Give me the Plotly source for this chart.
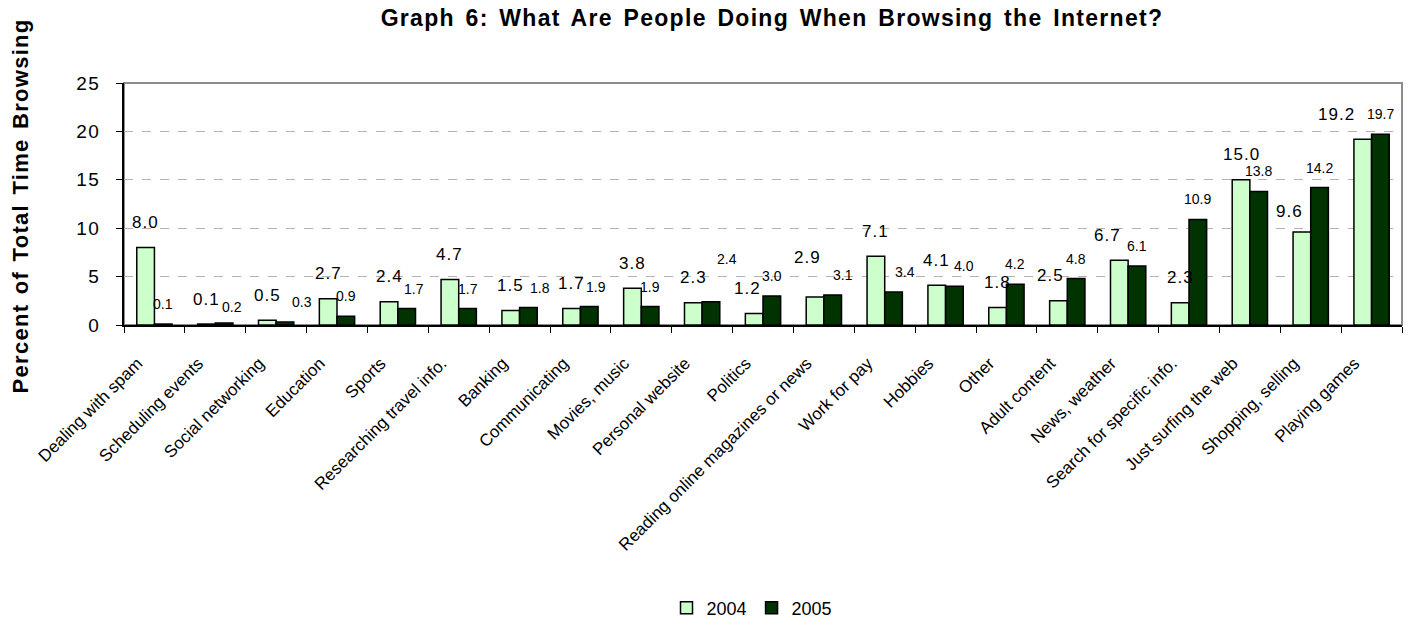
import plotly.graph_objects as go

# Activities and share of browsing time (percent) for each survey year
categories = [
    "Dealing with spam", "Scheduling events", "Social networking", "Education",
    "Sports", "Researching travel info.", "Banking", "Communicating",
    "Movies, music", "Personal website", "Politics",
    "Reading online magazines or news", "Work for pay", "Hobbies", "Other",
    "Adult content", "News, weather", "Search for specific info.",
    "Just surfing the web", "Shopping, selling", "Playing games",
]
share_2004 = [8.0, 0.1, 0.5, 2.7, 2.4, 4.7, 1.5, 1.7, 3.8, 2.3, 1.2,
              2.9, 7.1, 4.1, 1.8, 2.5, 6.7, 2.3, 15.0, 9.6, 19.2]
share_2005 = [0.1, 0.2, 0.3, 0.9, 1.7, 1.7, 1.8, 1.9, 1.9, 2.4, 3.0,
              3.1, 3.4, 4.0, 4.2, 4.8, 6.1, 10.9, 13.8, 14.2, 19.7]
y_ticks = [0, 5, 10, 15, 20, 25]

W, H = 1406, 621
MARGIN = dict(l=124, r=4, t=83, b=296, autoexpand=False)
BARGAP = 0.42
FONT = "Arial, Liberation Sans, sans-serif"

COLOR_2004 = "#CCFFCC"
COLOR_2005 = "#003300"

# Hand placement of a few value labels that sit off their default spot (px)
LABEL_NUDGE = {
    ("2004", "Playing games"): (-26, 0),
    ("2004", "Shopping, selling"): (-12, -4),
    ("2004", "News, weather"): (-12, 0),
    ("2004", "Adult content"): (-8, 0),
    ("2004", "Politics"): (-7, 0),
    ("2004", "Reading online magazines or news"): (-8, 14),
    ("2005", "Social networking"): (17, 0),
    ("2005", "Scheduling events"): (8, -4),
    ("2005", "Sports"): (7, 0),
    ("2005", "Banking"): (12, 0),
    ("2005", "Communicating"): (7, 0),
    ("2005", "Personal website"): (16, 23),
    ("2005", "Reading online magazines or news"): (10, 0),
    ("2005", "Work for pay"): (11, 0),
    ("2005", "Hobbies"): (10, 0),
}


def spaced(text, letter=1.0, word=0.0):
    return (f'<span style="letter-spacing:{letter}px;word-spacing:{word}px">'
            f'{text}</span>')


fig = go.Figure()
fig.add_bar(name="2004", x=categories, y=share_2004,
            marker=dict(color=COLOR_2004, line=dict(color="black", width=1.5)))
fig.add_bar(name="2005", x=categories, y=share_2005,
            marker=dict(color=COLOR_2005, line=dict(color="black", width=1.5)))

# Value labels above each bar
plot_w = W - MARGIN["l"] - MARGIN["r"]
plot_h = H - MARGIN["t"] - MARGIN["b"]
cat_w = plot_w / len(categories)
bar_w = cat_w * (1 - BARGAP) / 2
annotations = []
for series, values, side, lift, size in (
        ("2004", share_2004, -1, 25, 17),
        ("2005", share_2005, 1, 20, 14)):
    for cat, v in zip(categories, values):
        dx, dy = LABEL_NUDGE.get((series, cat), (0, 0))
        annotations.append(dict(
            x=cat, y=v, xref="x", yref="y",
            text=spaced(f"{v:.1f}", 1.0 if series == "2004" else 0.0),
            showarrow=False, xanchor="center", yanchor="middle",
            xshift=side * bar_w / 2 + dx, yshift=lift + dy,
            font=dict(family=FONT, size=size, color="black"),
        ))

# Y axis title
annotations.append(dict(
    x=-(MARGIN["l"] - 20) / plot_w, y=0.49, xref="paper", yref="paper",
    text=spaced("<b>Percent of Total Time Browsing</b>", 1.3, 2.0),
    textangle=-90, showarrow=False, xanchor="center", yanchor="middle",
    font=dict(family=FONT, size=22, color="black"),
))

fig.update_layout(
    width=W, height=H, margin=MARGIN,
    paper_bgcolor="white", plot_bgcolor="white",
    barmode="group", bargap=BARGAP, bargroupgap=0,
    title=dict(
        text=spaced("<b>Graph 6: What Are People Doing When Browsing the Internet?</b>", 1.3, 3.0),
        x=772 / W, xanchor="center", xref="container",
        y=1 - 18 / H, yanchor="middle", yref="container",
        font=dict(family=FONT, size=23, color="black"),
        automargin=False,
    ),
    legend=dict(
        orientation="h", x=(752 - MARGIN["l"]) / plot_w, xanchor="center",
        y=1 - (608 - MARGIN["t"]) / plot_h, yanchor="middle",
        font=dict(family=FONT, size=18, color="black"),
        itemclick=False, traceorder="normal",
    ),
    annotations=annotations,
    shapes=[dict(type="rect", xref="paper", yref="paper", x0=0, x1=1, y0=0, y1=1,
                 line=dict(color="#8c8c8c", width=2), layer="below")],
    showlegend=True,
)

fig.update_xaxes(
    type="category", showline=True, linecolor="black", linewidth=1.5,
    ticks="outside", tickson="boundaries", ticklen=6, tickcolor="black",
    tickangle=-45, showgrid=False, automargin=False,
    tickfont=dict(family=FONT, size=17, color="black"),
    ticklabelshift=-17, ticklabelstandoff=20,
)
fig.update_yaxes(
    range=[0, 25], tickvals=y_ticks,
    ticktext=[spaced(str(t), 1.5) for t in y_ticks],
    showline=True, linecolor="black", linewidth=1.5,
    ticks="outside", ticklen=6, tickcolor="black",
    showgrid=True, gridcolor="#b3b3b3", griddash="dash", gridwidth=1,
    zeroline=False, automargin=False,
    tickfont=dict(family=FONT, size=19, color="black"),
    ticklabelstandoff=12,
)

fig.write_html("out.html")
